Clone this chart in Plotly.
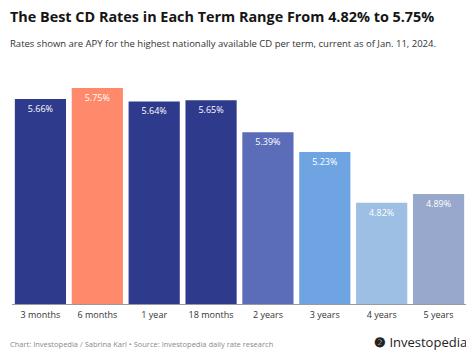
import plotly.graph_objects as go

terms = ["3 months", "6 months", "1 year", "18 months", "2 years", "3 years", "4 years", "5 years"]
rates = [5.66, 5.75, 5.64, 5.65, 5.39, 5.23, 4.82, 4.89]
colors = ["#2E3A8C", "#FF8A6B", "#2E3A8C", "#2E3A8C", "#5B6CB8", "#6FA4E3", "#9CBFE3", "#97A8CC"]
labels = [f"{r:.2f}%" for r in rates]

FONT = "Open Sans"

fig = go.Figure(go.Bar(
    x=terms, y=rates, marker=dict(color=colors, line=dict(width=0)),
    text=labels, textposition="inside", insidetextanchor="end",
    textfont=dict(color="white", size=9, family=FONT),
    textangle=0, cliponaxis=False, hoverinfo="skip",
))

# page body has an 8px default margin: figure sized to fill the rest of the window
fig.update_layout(
    width=466, height=351,
    margin=dict(l=4, r=7, t=49, b=55),
    paper_bgcolor="white", plot_bgcolor="white",
    bargap=0.1, showlegend=False,
    font=dict(family=FONT, color="#333333"),
    xaxis=dict(showline=True, linecolor="#9A9A9A", linewidth=1, ticks="",
               ticklabelstandoff=2,
               tickfont=dict(size=9, color="#333333", family=FONT), showgrid=False),
    yaxis=dict(range=[4, 6], visible=False, showgrid=False),
    uniformtext=dict(minsize=8, mode="show"),
)

fig.add_annotation(text="<b>The Best CD Rates in Each Term Range From 4.82% to 5.75%</b>",
                   xref="paper", yref="paper", x=0, y=1, xanchor="left", yanchor="middle",
                   yshift=41, xshift=-4, showarrow=False,
                   font=dict(size=14.4, color="#151515", family=FONT))
fig.add_annotation(text="Rates shown are APY for the highest nationally available CD per term, current as of Jan. 11, 2024.",
                   xref="paper", yref="paper", x=0, y=1, xanchor="left", yanchor="middle",
                   yshift=14, xshift=-4, showarrow=False,
                   font=dict(size=9.5, color="#333333", family=FONT))
fig.add_annotation(text="Chart: Investopedia / Sabrina Karl • Source: Investopedia daily rate research",
                   xref="paper", yref="paper", x=0, y=0, xanchor="left", yanchor="middle",
                   yshift=-40, xshift=-4, showarrow=False,
                   font=dict(size=7.5, color="#8A8A8A", family=FONT))
fig.add_annotation(text="<b>❷</b> Investopedia",
                   xref="paper", yref="paper", x=1, y=0, xanchor="right", yanchor="middle",
                   yshift=-38, xshift=2, showarrow=False,
                   font=dict(size=13, color="#222222", family=FONT))

fig.write_html("out.html")
